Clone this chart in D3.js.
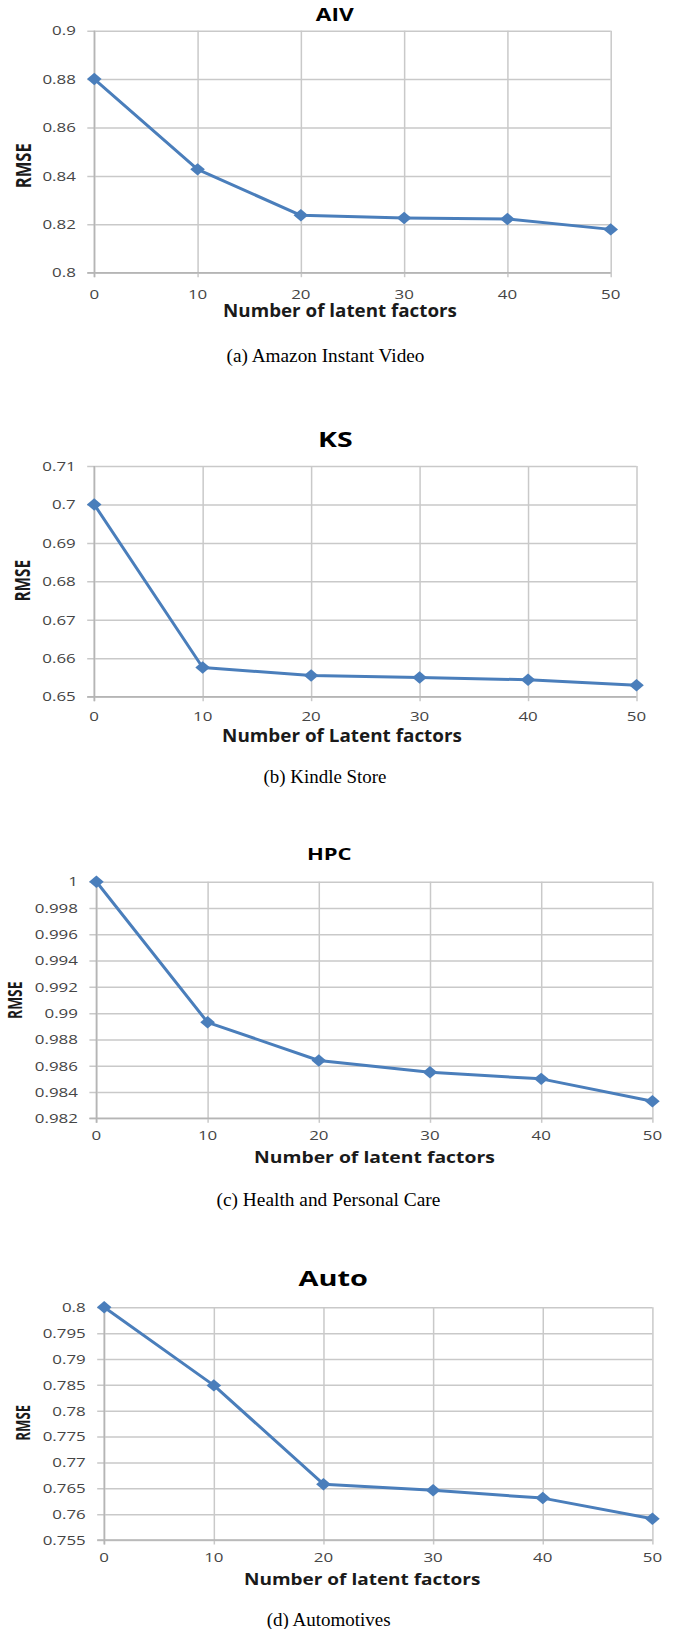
<!DOCTYPE html>
<html>
<head>
<meta charset="utf-8">
<script src="https://cdn.jsdelivr.net/npm/d3@7"></script>
<style>
  body { margin: 0; background: #fff; }
  svg { display: block; }
</style>
</head>
<body>
<div id="chart"></div>
<script>
// number of latent factors (x axis, same for all four panels)
var factors = [0, 10, 20, 30, 40, 50];

// RMSE
var rmseAIV  = [0.880, 0.8427, 0.8237, 0.8226, 0.8222, 0.8179];
var rmseKS   = [0.700, 0.6576, 0.6555, 0.6550, 0.6544, 0.6530];
var rmseHPC  = [1.000, 0.9893, 0.9864, 0.9855, 0.9850, 0.9833];
var rmseAuto = [0.800, 0.7849, 0.7658, 0.7646, 0.7631, 0.7591];

// y tick values per panel
var ticksAIV  = [0.8, 0.82, 0.84, 0.86, 0.88, 0.9];
var ticksKS   = [0.65, 0.66, 0.67, 0.68, 0.69, 0.7, 0.71];
var ticksHPC  = [0.982, 0.984, 0.986, 0.988, 0.99, 0.992, 0.994, 0.996, 0.998, 1];
var ticksAuto = [0.755, 0.76, 0.765, 0.77, 0.775, 0.78, 0.785, 0.79, 0.795, 0.8];

var titles   = ["AIV", "KS", "HPC", "Auto"];
var xTitles  = ["Number of latent factors", "Number of Latent factors", "Number of latent factors", "Number of latent factors"];
var captions = ["(a) Amazon Instant Video", "(b) Kindle Store", "(c) Health and Personal Care", "(d) Automotives"];

var series = [rmseAIV, rmseKS, rmseHPC, rmseAuto];
var ticks  = [ticksAIV, ticksKS, ticksHPC, ticksAuto];

var layout = [
  {left: 94.3, right: 610.7, top: 30.7, bottom: 272.7,
   title: {x: 334.8, y: 20.7, size: 17, w: 38},
   xlabY: 299, xt: {x: 340, y: 317.3, size: 17, w: 234},
   yt: {x: 23.3, y: 165.7, size: 17, w: 45},
   cap: {x: 325.5, y: 361.7, size: 19, w: 198}},
  {left: 94.2, right: 636.5, top: 466, bottom: 696.7,
   title: {x: 335.3, y: 446.7, size: 22, w: 34.6},
   xlabY: 721, xt: {x: 342, y: 741.7, size: 17, w: 240},
   yt: {x: 22.6, y: 580.8, size: 16, w: 41.7},
   cap: {x: 325, y: 782.7, size: 19, w: 123}},
  {left: 96.4, right: 652.4, top: 881.7, bottom: 1118.3,
   title: {x: 329.3, y: 860, size: 16, w: 44.7},
   xlabY: 1140, xt: {x: 374.4, y: 1163.3, size: 16, w: 241},
   yt: {x: 14.5, y: 1000.3, size: 15, w: 37.3},
   cap: {x: 328.4, y: 1206, size: 19, w: 224}},
  {left: 104.2, right: 652.4, top: 1307.3, bottom: 1540,
   title: {x: 333.3, y: 1285.7, size: 21, w: 69.4},
   xlabY: 1561.5, xt: {x: 362.2, y: 1585, size: 15.5, w: 236.6},
   yt: {x: 23.2, y: 1422.8, size: 15, w: 35.7},
   cap: {x: 328.6, y: 1626, size: 19, w: 124}}
];

var blue = "#4a7ebb";
var grid = "#c9c9c9";
var sans = "'Open Sans', 'DejaVu Sans', sans-serif";
var serif = "'Liberation Serif', 'DejaVu Serif', serif";

var svg = d3.select("#chart").append("svg")
  .attr("width", 673)
  .attr("height", 1629);

// text squeezed/stretched horizontally to hit a measured width
function fitText(g, str, o, family, weight, color, rotate) {
  var t = g.append("text")
    .attr("font-family", family)
    .attr("font-weight", weight)
    .attr("font-size", o.size)
    .attr("fill", color)
    .attr("text-anchor", "middle")
    .text(str);
  var len = t.node().getComputedTextLength();
  var s = o.w / len;
  if (rotate) {
    // rotated label: width is along y, the figure's stretch is along x
    t.attr("dy", "0.36em")
     .attr("transform", "translate(" + o.x + "," + o.y + ") scale(1.3,1) rotate(-90) scale(" + s + ",1)");
  } else {
    t.attr("transform", "translate(" + o.x + "," + o.y + ") scale(" + s + ",1)");
  }
  return t;
}

series.forEach(function(vals, i) {
  var L = layout[i];
  var tv = ticks[i];
  var g = svg.append("g");

  var x = d3.scaleLinear().domain([0, 50]).range([L.left, L.right]);
  var y = d3.scaleLinear().domain(d3.extent(tv)).range([L.bottom, L.top]);

  // horizontal gridlines + small outside ticks
  g.append("g")
    .attr("transform", "translate(" + L.left + ",0)")
    .call(d3.axisLeft(y).tickValues(tv).tickSize(-(L.right - L.left)).tickFormat(""))
    .call(function(a) {
      a.select(".domain").remove();
      a.selectAll(".tick line").attr("x1", -7).attr("stroke", grid).attr("stroke-width", 1.5);
    });

  // vertical gridlines + small outside ticks
  g.append("g")
    .attr("transform", "translate(0," + L.bottom + ")")
    .call(d3.axisBottom(x).tickValues(factors).tickSize(-(L.bottom - L.top)).tickFormat(""))
    .call(function(a) {
      a.select(".domain").remove();
      a.selectAll(".tick line").attr("y1", 4.5).attr("stroke", grid).attr("stroke-width", 1.5);
    });

  // axis lines
  g.append("line").attr("x1", L.left - 7).attr("x2", L.right)
    .attr("y1", L.bottom).attr("y2", L.bottom)
    .attr("stroke", "#b5b5b5").attr("stroke-width", 1.5);
  g.append("line").attr("x1", L.left).attr("x2", L.left)
    .attr("y1", L.top).attr("y2", L.bottom + 4.5)
    .attr("stroke", "#b5b5b5").attr("stroke-width", 1.5);

  // y tick labels
  g.selectAll(".ylab").data(tv).enter().append("text")
    .attr("class", "ylab")
    .attr("transform", function(d) { return "translate(" + (L.left - 18.5) + "," + y(d) + ") scale(1.27,1)"; })
    .attr("dy", "0.36em")
    .attr("text-anchor", "end")
    .attr("font-family", sans)
    .attr("font-size", 13.3)
    .attr("fill", "#454545")
    .text(function(d) { return String(+d.toFixed(3)); });

  // x tick labels
  g.selectAll(".xlab").data(factors).enter().append("text")
    .attr("class", "xlab")
    .attr("transform", function(d) { return "translate(" + x(d) + "," + L.xlabY + ") scale(1.27,1)"; })
    .attr("text-anchor", "middle")
    .attr("font-family", sans)
    .attr("font-size", 13.3)
    .attr("fill", "#454545")
    .text(function(d) { return d; });

  // line + diamond markers
  var line = d3.line()
    .x(function(d, j) { return x(factors[j]); })
    .y(function(d) { return y(d); });

  g.append("path")
    .datum(vals)
    .attr("d", line)
    .attr("fill", "none")
    .attr("stroke", blue)
    .attr("stroke-width", 3)
    .attr("stroke-linejoin", "round");

  g.selectAll(".pt").data(vals).enter().append("path")
    .attr("class", "pt")
    .attr("d", d3.symbol(d3.symbolSquare, 92))
    .attr("transform", function(d, j) { return "translate(" + x(factors[j]) + "," + y(d) + ") scale(1.08,0.92) rotate(45)"; })
    .attr("fill", blue);

  // texts
  fitText(g, titles[i], L.title, sans, "bold", "#000");
  fitText(g, xTitles[i], L.xt, sans, "bold", "#1a1a1a");
  fitText(g, "RMSE", L.yt, sans, "bold", "#1a1a1a", true);
  fitText(g, captions[i], L.cap, serif, "normal", "#000");
});
</script>
</body>
</html>
